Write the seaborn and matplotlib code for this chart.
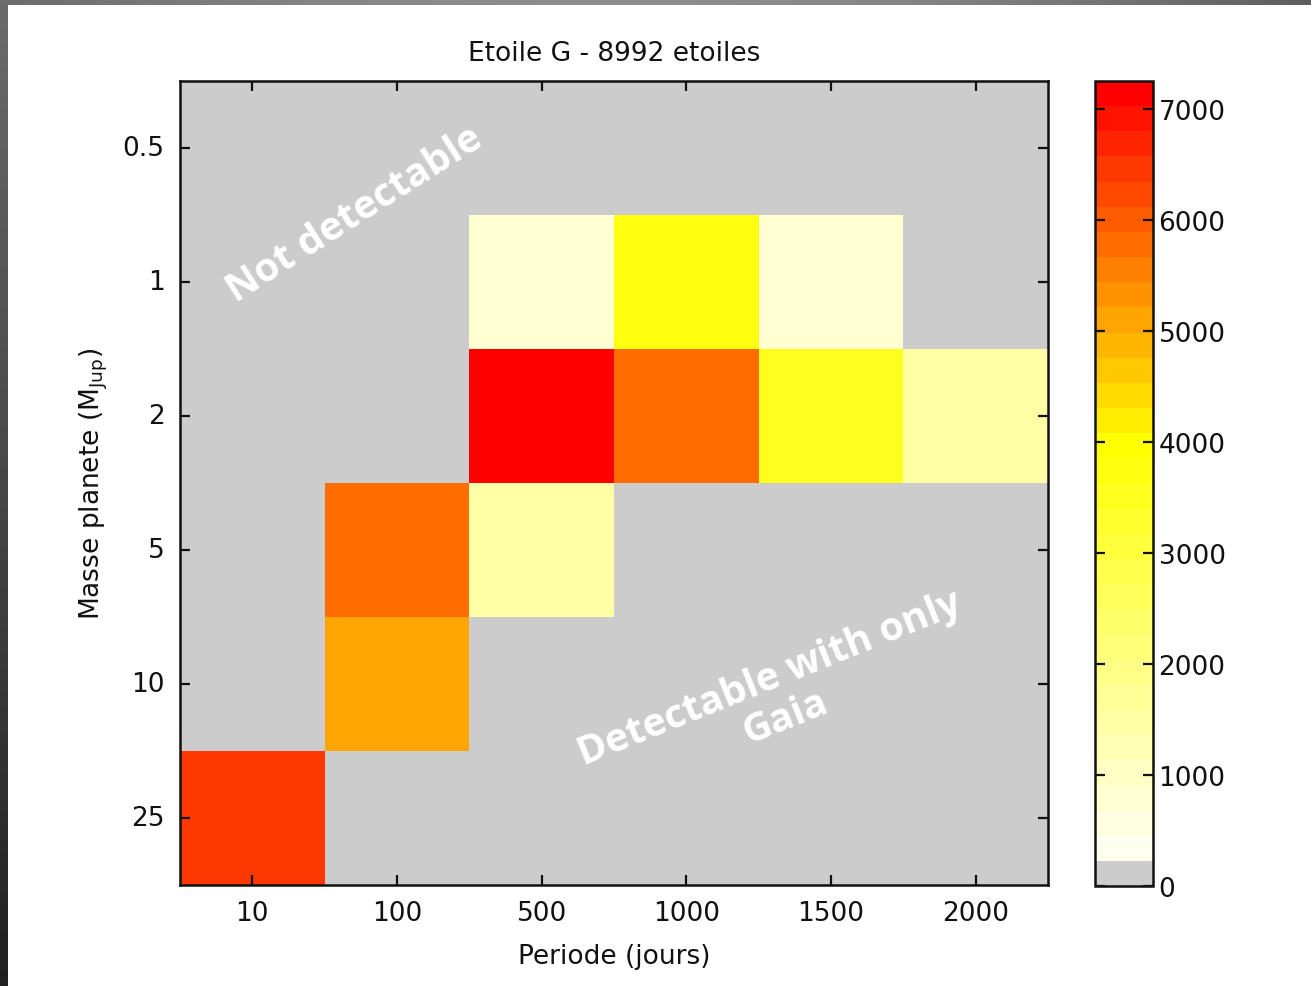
import numpy as np
import pandas as pd
import matplotlib
matplotlib.use("Agg")
import matplotlib.pyplot as plt
from matplotlib.colors import ListedColormap
import seaborn as sns

# ---- data ----
periods = ["10", "100", "500", "1000", "1500", "2000"]
masses = ["0.5", "1", "2", "5", "10", "25"]
row_05 = [0, 0, 0, 0, 0, 0]
row_1 = [0, 0, 790, 3700, 790, 0]
row_2 = [0, 0, 7200, 5750, 3500, 1470]
row_5 = [0, 5750, 1470, 0, 0, 0]
row_10 = [0, 5050, 0, 0, 0, 0]
row_25 = [6450, 0, 0, 0, 0, 0]
cbar_ticks = [0, 1000, 2000, 3000, 4000, 5000, 6000, 7000]

df = pd.DataFrame([row_05, row_1, row_2, row_5, row_10, row_25],
                  index=masses, columns=periods)

# ---- colormap: gray for empty, then white->yellow->red ----
cols = [(0.8, 0.8, 0.8)]
for k in range(1, 18):
    cols.append((1.0, 1.0, 1.0 - k / 17))
for k in range(18, 32):
    cols.append((1.0, 1.0 - (k - 17) / 14, 0.0))
cmap = ListedColormap(cols)

sns.set_style("white")
plt.rcParams["font.family"] = ["DejaVu Sans"]
plt.rcParams["mathtext.fontset"] = "dejavusans"
plt.rcParams["text.color"] = "#111111"
plt.rcParams["axes.labelcolor"] = "#111111"
plt.rcParams["xtick.color"] = "#111111"
plt.rcParams["ytick.color"] = "#111111"

W, H = 1311, 987
fig = plt.figure(figsize=(W / 100, H / 100), dpi=100, facecolor="white")

# decorative slide frame (top and left strips)
top_ax = fig.add_axes([0, 1 - 6 / H, 1, 6 / H])
tx = np.linspace(0, 1, 200)
top_grad = 0.42 + 0.16 * np.sin(np.pi * tx) - 0.05 * tx
top_ax.imshow(np.repeat(top_grad[None, :, None], 3, axis=2), aspect="auto",
              interpolation="bilinear", vmin=0, vmax=1)
top_ax.axis("off")
left_ax = fig.add_axes([0, 0, 8 / W, 1])
ly = np.linspace(0, 1, 200)
left_grad = 0.42 - 0.29 * ly
left_ax.imshow(np.repeat(left_grad[:, None, None], 3, axis=2), aspect="auto",
               interpolation="bilinear", vmin=0, vmax=1)
left_ax.axis("off")

ax = fig.add_axes([180 / W, 1 - 886 / H, 868 / W, 804 / H])
cax = fig.add_axes([1095 / W, 1 - 887 / H, 58 / W, 805 / H])

sns.heatmap(df, ax=ax, cbar_ax=cax, cmap=cmap, vmin=0, vmax=7250,
            linewidths=0, cbar=True)

fs = 19
ax.set_axisbelow(False)
cax.set_axisbelow(False)
ax.set_xticklabels(periods, rotation=0, fontsize=fs)
ax.set_yticklabels(masses, rotation=0, fontsize=fs)
ax.tick_params(direction="in", top=True, right=True, bottom=True, left=True,
               length=7, width=1.6, color="#111111", labelcolor="#111111",
               pad=11, labeltop=False, labelright=False)
for sp in ax.spines.values():
    sp.set_visible(True)
    sp.set_color("#111111")
    sp.set_linewidth(1.8)

ax.set_title("Etoile G - 8992 etoiles", fontsize=fs, pad=15, color="#111111")
ax.set_xlabel("Periode (jours)", fontsize=fs, labelpad=12)
ax.set_ylabel(r"Masse planete (M$_{\mathrm{Jup}}$)", fontsize=fs, labelpad=9)

cb = ax.collections[0].colorbar
cb.set_ticks(cbar_ticks)
cb.set_ticklabels([str(t) for t in cbar_ticks])
cax.tick_params(direction="in", left=True, right=True, length=7, width=1.6,
                color="#111111", labelcolor="#111111", labelsize=fs, pad=4)
cb.outline.set_edgecolor("#111111")
cb.outline.set_linewidth(1.8)

# annotations
ax.text(1.21, 0.99, "Not detectable", transform=ax.transData, rotation=32.5,
        ha="center", va="center", rotation_mode="anchor",
        fontsize=28.5, fontweight="bold", color="white", family="Open Sans")
ax.text(4.13, 4.6, "Detectable with only\nGaia", transform=ax.transData,
        rotation=22, ha="center", va="center", rotation_mode="anchor",
        multialignment="center", linespacing=1.12,
        fontsize=28.5, fontweight="bold", color="white", family="Open Sans")

fig.savefig("out.png", dpi=100, facecolor="white")
